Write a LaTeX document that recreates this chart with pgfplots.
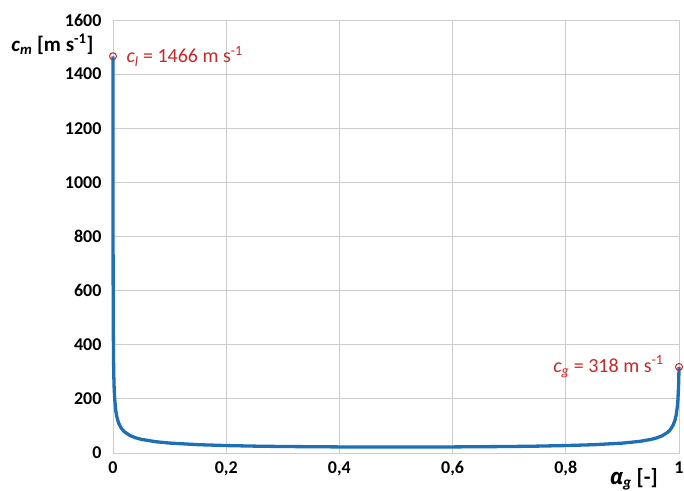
\documentclass[border=0pt]{standalone}
\usepackage{pgfplots}
\pgfplotsset{compat=1.18}
\usepackage{fontspec}
\setmainfont{Carlito}
\newfontfamily\greekfont{Open Sans}
\definecolor{cblue}{RGB}{31,111,180}
\definecolor{cred}{RGB}{200,40,40}
\definecolor{gridc}{RGB}{205,205,205}
\begin{document}
\begin{tikzpicture}[x=1pt,y=1pt]
\begin{axis}[
  at={(0,0)}, anchor=south west,
  scale only axis, width=566pt, height=433pt,
  xmin=0, xmax=1, ymin=0, ymax=1600,
  xtick={0,0.2,0.4,0.6,0.8,1},
  xticklabels={0,{0,2},{0,4},{0,6},{0,8},1},
  ytick={0,200,400,600,800,1000,1200,1400,1600},
  yticklabels={0,200,400,600,800,1000,1200,1400,1600},
  grid=major,
  major grid style={draw=gridc, line width=0.8pt},
  axis line style={draw=gridc, line width=0.8pt},
  tick style={draw=none},
  ticklabel style={font=\fontsize{18}{20}\selectfont\bfseries},
  xticklabel style={yshift=-5pt},
  yticklabel style={xshift=-8pt},
  clip=false,
]
\addplot[cblue, line width=3.3pt, line join=round] coordinates {
(0,1466) (0.000001,1453) (0.00001,1351) (0.00003,1185) (0.00005,1068)
(0.0001,881) (0.0002,688) (0.0003,584) (0.0005,467) (0.001,339)
(0.0015,279) (0.002,243) (0.003,200) (0.005,155) (0.007,132)
(0.01,110) (0.015,90.5) (0.02,78.6) (0.03,64.5) (0.04,56.2)
(0.05,50.5) (0.075,41.8) (0.1,36.7) (0.15,30.8) (0.2,27.5)
(0.25,25.4) (0.3,24.0) (0.4,22.5) (0.5,22.0) (0.6,22.5)
(0.7,24.0) (0.75,25.4) (0.8,27.5) (0.85,30.7) (0.9,36.5)
(0.93,42.8) (0.95,50.0) (0.96,55.4) (0.97,63.4) (0.98,76.5)
(0.985,87.3) (0.99,104.7) (0.993,122.1) (0.995,140.3) (0.997,170.3)
(0.998,195.0) (0.999,235.0) (0.9995,267.3) (0.9997,284.5) (0.9998,294.5)
(0.9999,305.6) (1,318)
};
\addplot[only marks, mark=o, mark size=3.5pt, cred, line width=1pt] coordinates {(0,1466) (1,318)};
\node[anchor=west, text=cred, font=\fontsize{20}{22}\selectfont, xshift=10pt] at (axis cs:0,1466) {\textit{c\textsubscript{l}} = 1466 m s\textsuperscript{-1}};
\node[anchor=east, text=cred, font=\fontsize{20}{22}\selectfont, xshift=-12pt] at (axis cs:1,318) {\textit{c\textsubscript{g}} = 318 m s\textsuperscript{-1}};
\node[anchor=base, font=\fontsize{22}{24}\selectfont\bfseries, yshift=-31pt] at (axis cs:0.92,0) {{\greekfont\bfseries\itshape α}\textit{\textsubscript{g}} [-]};
\node[anchor=east, font=\fontsize{21}{23}\selectfont\bfseries, xshift=-16pt] at (axis cs:0,1510) {\textit{c\textsubscript{m}} [m s\textsuperscript{-1}]};
\end{axis}
\pgfresetboundingbox
\path[use as bounding box] (-113,-37) rectangle (571,453);
\end{tikzpicture}
\end{document}
